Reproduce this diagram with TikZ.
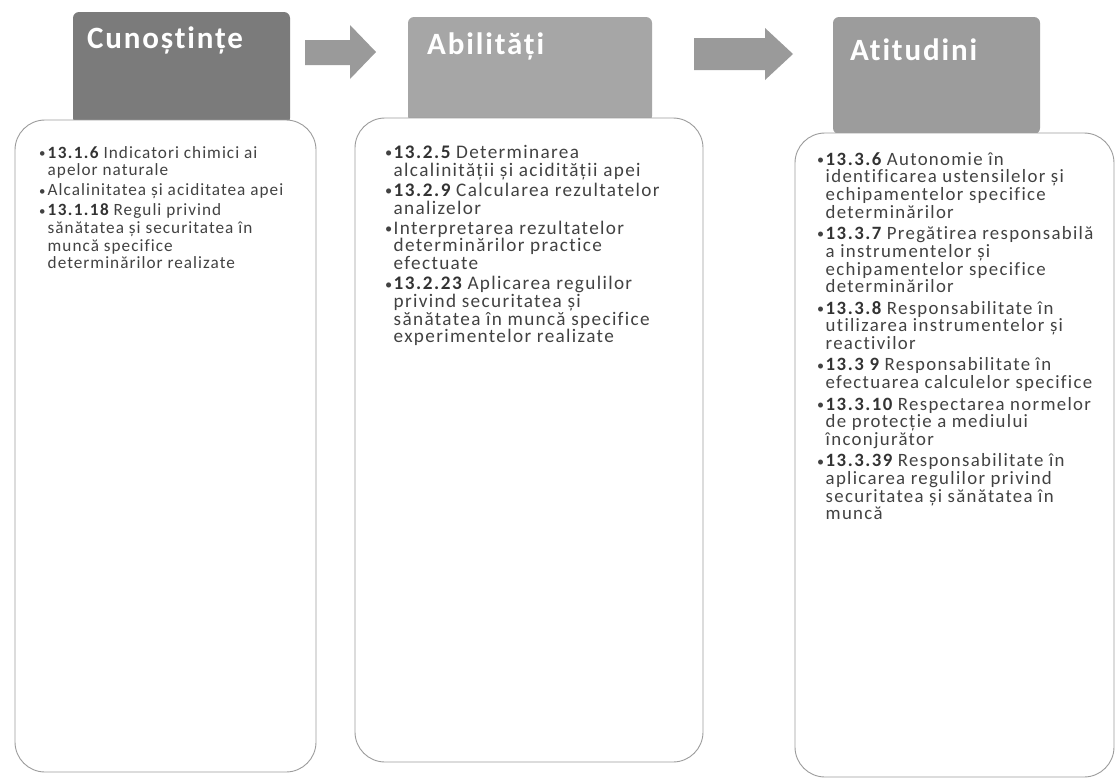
\documentclass[tikz,border=0pt]{standalone}
\usepackage{fontspec}
\usepackage{graphicx}
\setmainfont{Carlito}
\newfontfamily\bodyf[LetterSpace=6,Ligatures={NoCommon,NoContextual,NoRequired}]{Carlito}
\newfontfamily\bodyg[LetterSpace=7,Ligatures={NoCommon,NoContextual,NoRequired}]{Carlito}
\newfontfamily\numf[LetterSpace=8,Ligatures={NoCommon,NoContextual,NoRequired}]{Carlito}
\newfontfamily\titlef[LetterSpace=6,Ligatures={NoCommon,NoContextual,NoRequired}]{Carlito}
\definecolor{hdrA}{HTML}{7B7B7B}
\definecolor{hdrB}{HTML}{A6A6A6}
\definecolor{hdrC}{HTML}{9C9C9C}
\definecolor{arr}{HTML}{9A9A9A}
\definecolor{edge}{HTML}{9C9C9C}
\definecolor{txt}{HTML}{424242}
\definecolor{num}{HTML}{333333}
\newcommand{\bul}{\makebox[8.5pt][l]{\raisebox{0.8pt}{\scalebox{0.75}{•}}}}
\newcommand{\ind}{\hspace*{8.5pt}}
\newcommand{\nb}[1]{{\numf\bfseries\color{num}#1}}
\tikzset{
  hdr/.style={rounded corners=6pt, inner sep=0pt},
  content/.style={draw=edge, line width=0.9pt, fill=white, rounded corners=30pt},
  ttl/.style={anchor=west, inner sep=0pt, text=white, font=\titlef\bfseries\fontsize{31}{33}\selectfont},
  bodytext/.style={anchor=north west, align=left, inner sep=0pt, text=txt},
  blockarrow/.style={fill=arr}
}
\begin{document}
\begin{tikzpicture}[x=1pt,y=-1pt]
\useasboundingbox (0,0) rectangle (1117,780);
\fill[white] (0,0) rectangle (1117,780);
% header boxes
\fill[hdrA, hdr] (73,12) rectangle (290,124);
\fill[hdrB, hdr] (408,17) rectangle (652,122);
\fill[hdrC, hdr] (833,17) rectangle (1040,134);
\node[ttl] (h1) at (87,40) {Cunoștințe};
\node[ttl] (h2) at (427,46) {Abilități};
\node[ttl] (h3) at (850,50) {Atitudini};
% arrows
\fill[blockarrow] (305,40) -- (350,40) -- (350,25) -- (376,52) -- (350,79) -- (350,65) -- (305,65) -- cycle;
\fill[blockarrow] (694,38) -- (765,38) -- (765,28) -- (793,54) -- (765,80) -- (765,70) -- (694,70) -- cycle;
% content boxes
\draw[content] (15,120) rectangle (316,772);
\draw[content] (355,118) rectangle (703,762);
\draw[content] (795,133) rectangle (1114,777);
% texts
\node[bodytext, font=\bodyf\fontsize{17.2}{17.6}\selectfont] (t1) at (39,146) {%
\bul\nb{13.1.6} Indicatori chimici ai\\
\ind apelor naturale\\[2.5pt]
\bul Alcalinitatea și aciditatea apei\\[2.5pt]
\bul\nb{13.1.18} Reguli privind\\
\ind sănătatea și securitatea în\\
\ind muncă specifice\\
\ind determinărilor realizate};
\node[bodytext, font=\bodyg\fontsize{19.2}{17.7}\selectfont] (t2) at (385,145) {%
\bul\nb{13.2.5} Determinarea\\
\ind alcalinității și acidității apei\\[2.5pt]
\bul\nb{13.2.9} Calcularea rezultatelor\\
\ind analizelor\\[2.5pt]
\bul Interpretarea rezultatelor\\
\ind determinărilor practice\\
\ind efectuate\\[2.5pt]
\bul\nb{13.2.23} Aplicarea regulilor\\
\ind privind securitatea și\\
\ind sănătatea în muncă specifice\\
\ind experimentelor realizate};
\node[bodytext, font=\bodyg\fontsize{18.8}{17.7}\selectfont] (t3) at (817,152) {%
\bul\nb{13.3.6} Autonomie în\\
\ind identificarea ustensilelor și\\
\ind echipamentelor specifice\\
\ind determinărilor\\[3.7pt]
\bul\nb{13.3.7} Pregătirea responsabilă\\
\ind a instrumentelor și\\
\ind echipamentelor specifice\\
\ind determinărilor\\[3.7pt]
\bul\nb{13.3.8} Responsabilitate în\\
\ind utilizarea instrumentelor și\\
\ind reactivilor\\[3.7pt]
\bul\nb{13.3 9} Responsabilitate în\\
\ind efectuarea calculelor specifice\\[3.7pt]
\bul\nb{13.3.10} Respectarea normelor\\
\ind de protecție a mediului\\
\ind înconjurător\\[3.7pt]
\bul\nb{13.3.39} Responsabilitate în\\
\ind aplicarea regulilor privind\\
\ind securitatea și sănătatea în\\
\ind muncă};
\end{tikzpicture}
\end{document}
